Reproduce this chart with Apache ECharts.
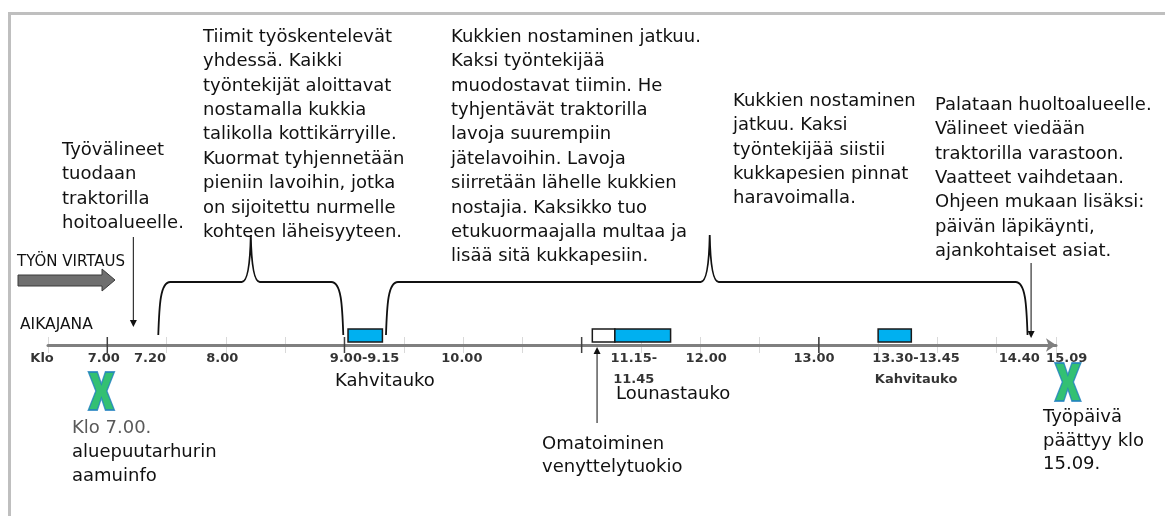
<!DOCTYPE html>
<html>
<head>
<meta charset="utf-8">
<style>
html, body { margin: 0; padding: 0; background: #fff; }
#chart { width: 1165px; height: 516px; }
</style>
<script src="https://cdn.jsdelivr.net/npm/echarts@6.0.0/dist/echarts.min.js"></script>
</head>
<body>
<div id="chart"></div>
<script>
// ajat tunteina desimaaleina (7.5 = klo 7.30)
const axisStart = 6.5;
const axisEnd = 15;
const majorTicks = [7, 9, 11, 13];
const tickLabels = ['Klo', '7.00', '7.20', '8.00', '9.00-9.15', '10.00', '11.15-\n11.45', '12.00', '13.00', '13.30-13.45\nKahvitauko', '14.40', '15.09'];
const tickLabelAt = [6.45, 6.97, 7.36, 7.97, 9.17, 9.99, 11.44, 12.05, 12.96, 13.82, 14.69, 15.09];

// tauot: alku, loppu, tyyppi
const breakStart = [9.03, 11.09, 11.28, 13.5];
const breakEnd = [9.32, 11.28, 11.75, 13.78];
const breakKind = ['kahvi', 'venyttely', 'lounas', 'kahvi'];

// aloitus ja lopetus
const dayMarks = [6.95, 15.1];

// aaltosulkeet tyojaksoille
const braceStart = [7.43, 9.35];
const bracePeak = [8.21, 12.08];
const braceEnd = [8.99, 14.76];

// nuolet tekstista aikajanalle
const pointerAt = [7.22, 11.13, 14.79];

const FONT = 'DejaVu Sans';
const TXT = '#111';

const myChart = echarts.init(document.getElementById('chart'));

function textBlock(x, y, text, lh, color, size) {
    return {
        type: 'text', x: x, y: y, z: 10,
        style: {
            text: text, fill: color || TXT, fontFamily: FONT, fontSize: size || 18,
            lineHeight: lh || 24.4, verticalAlign: 'top', align: 'left'
        }
    };
}

myChart.setOption({
    backgroundColor: '#fff',
    animation: false,
    grid: { left: 48, right: 109, top: 337, bottom: 163 },
    xAxis: {
        type: 'value', min: axisStart, max: axisEnd, interval: 0.5,
        axisLine: {
            onZero: true,
            symbol: ['none', 'arrow'], symbolSize: [10, 10],
            lineStyle: { color: '#7f7f7f', width: 3 }
        },
        axisTick: { show: false },
        axisLabel: { show: false },
        splitLine: { show: true, lineStyle: { color: '#d9d9d9', width: 1 } }
    },
    yAxis: { type: 'value', min: -8, max: 8, show: false },
    graphic: [
        { type: 'rect', shape: { x: 8, y: 12, width: 1157, height: 3 }, style: { fill: '#bfbfbf' } },
        { type: 'rect', shape: { x: 8, y: 12, width: 3, height: 504 }, style: { fill: '#bfbfbf' } },
        textBlock(62, 138, 'Työvälineet\ntuodaan\ntraktorilla\nhoitoalueelle.'),
        textBlock(203, 25, 'Tiimit työskentelevät\nyhdessä. Kaikki\ntyöntekijät aloittavat\nnostamalla kukkia\ntalikolla kottikärryille.\nKuormat tyhjennetään\npieniin lavoihin, jotka\non sijoitettu nurmelle\nkohteen läheisyyteen.'),
        textBlock(451, 25, 'Kukkien nostaminen jatkuu.\nKaksi työntekijää\nmuodostavat tiimin. He\ntyhjentävät traktorilla\nlavoja suurempiin\njätelavoihin. Lavoja\nsiirretään lähelle kukkien\nnostajia. Kaksikko tuo\netukuormaajalla multaa ja\nlisää sitä kukkapesiin.'),
        textBlock(733, 89, 'Kukkien nostaminen\njatkuu. Kaksi\ntyöntekijää siistii\nkukkapesien pinnat\nharavoimalla.'),
        textBlock(935, 93, 'Palataan huoltoalueelle.\nVälineet viedään\ntraktorilla varastoon.\nVaatteet vaihdetaan.\nOhjeen mukaan lisäksi:\npäivän läpikäynti,\najankohtaiset asiat.'),
        textBlock(17, 253, 'TYÖN VIRTAUS', 18, TXT, 15),
        textBlock(20, 316, 'AIKAJANA', 18, TXT, 15.5),
        textBlock(335, 369, 'Kahvitauko', 24),
        textBlock(616, 382, 'Lounastauko', 24),
        textBlock(542, 433, 'Omatoiminen\nvenyttelytuokio', 23),
        textBlock(72, 416, 'Klo 7.00.', 24, '#595959'),
        textBlock(72, 440, 'aluepuutarhurin\naamuinfo', 24),
        textBlock(1043, 406, 'Työpäivä\npäättyy klo\n15.09.', 23.5),
        {
            type: 'polygon', z: 10,
            shape: { points: [[18, 275], [102, 275], [102, 269], [115, 280], [102, 291], [102, 286], [18, 286]] },
            style: { fill: '#6f6f6f', stroke: '#3a3a3a', lineWidth: 1 }
        }
    ],
    series: [
        {
            // kellonajat
            type: 'scatter', symbolSize: 0, clip: false,
            data: tickLabelAt.map(t => [t, -3]),
            label: {
                show: true, position: 'bottom', distance: 0,
                formatter: p => tickLabels[p.dataIndex],
                fontFamily: FONT, fontWeight: 'bold', fontSize: 13, lineHeight: 21, color: '#000'
            },
            z: 5
        },
        {
            // tasatuntien tummat viivat
            type: 'custom', clip: false,
            data: majorTicks.map(t => [t]),
            renderItem: function (params, api) {
                const a = api.coord([api.value(0), 8]);
                const b = api.coord([api.value(0), -8]);
                return { type: 'line', shape: { x1: a[0], y1: a[1], x2: b[0], y2: b[1] }, style: { stroke: '#404040', lineWidth: 1.5 } };
            },
            z: 4
        },
        {
            // tauot
            type: 'custom', clip: false,
            data: breakStart.map((s, i) => [s, breakEnd[i]]),
            renderItem: function (params, api) {
                const a = api.coord([api.value(0), 16]);
                const b = api.coord([api.value(1), 3]);
                const white = breakKind[params.dataIndex] === 'venyttely';
                return {
                    type: 'rect',
                    shape: { x: a[0], y: a[1], width: b[0] - a[0], height: b[1] - a[1] },
                    style: { fill: white ? '#ffffff' : '#00b0f0', stroke: '#1a1a1a', lineWidth: 1.5 }
                };
            },
            z: 6
        },
        {
            // aaltosulkeet
            type: 'custom', clip: false,
            data: braceStart.map((s, i) => [s, bracePeak[i], braceEnd[i]]),
            renderItem: function (params, api) {
                const p0 = api.coord([api.value(0), 10]);
                const pk = api.coord([api.value(1), 110]);
                const p1 = api.coord([api.value(2), 10]);
                const yh = api.coord([api.value(0), 63])[1];
                const d = [
                    'M', p0[0], p0[1],
                    'C', p0[0] + 1, p0[1] - 30, p0[0] + 2, yh, p0[0] + 12, yh,
                    'L', pk[0] - 9, yh,
                    'Q', pk[0] - 1, yh, pk[0], pk[1],
                    'Q', pk[0] + 1, yh, pk[0] + 9, yh,
                    'L', p1[0] - 12, yh,
                    'C', p1[0] - 2, yh, p1[0] - 1, p1[1] - 30, p1[0], p1[1]
                ].join(' ');
                return { type: 'path', shape: { pathData: d }, style: { fill: 'none', stroke: '#111', lineWidth: 1.8 } };
            },
            z: 6
        },
        {
            // osoitinnuolet
            type: 'custom', clip: false,
            data: pointerAt.map(t => [t]),
            renderItem: function (params, api) {
                const span = [[108, 18], [-78, -2], [82, 7]][params.dataIndex];
                const a = api.coord([api.value(0), span[0]]);
                const b = api.coord([api.value(0), span[1]]);
                const dir = b[1] > a[1] ? 1 : -1;
                return {
                    type: 'group',
                    children: [
                        { type: 'line', shape: { x1: a[0], y1: a[1], x2: b[0], y2: b[1] - dir * 6 }, style: { stroke: '#333', lineWidth: 1.2 } },
                        { type: 'polygon', shape: { points: [[b[0] - 3.5, b[1] - dir * 7], [b[0] + 3.5, b[1] - dir * 7], [b[0], b[1]]] }, style: { fill: '#111' } }
                    ]
                };
            },
            z: 7
        },
        {
            // vihreat rastit
            type: 'scatter', clip: false,
            data: [[dayMarks[0], -46], [dayMarks[1], -37]],
            symbol: 'path://M0,0 L9,0 L13,12 L17,0 L26,0 L18.5,19 L26,38 L17,38 L13,26 L9,38 L0,38 L7.5,19 Z',
            symbolSize: [26, 38],
            itemStyle: { color: '#00b050', borderColor: '#1f7fbf', borderWidth: 1.5 },
            z: 8
        }
    ]
});
</script>
</body>
</html>
